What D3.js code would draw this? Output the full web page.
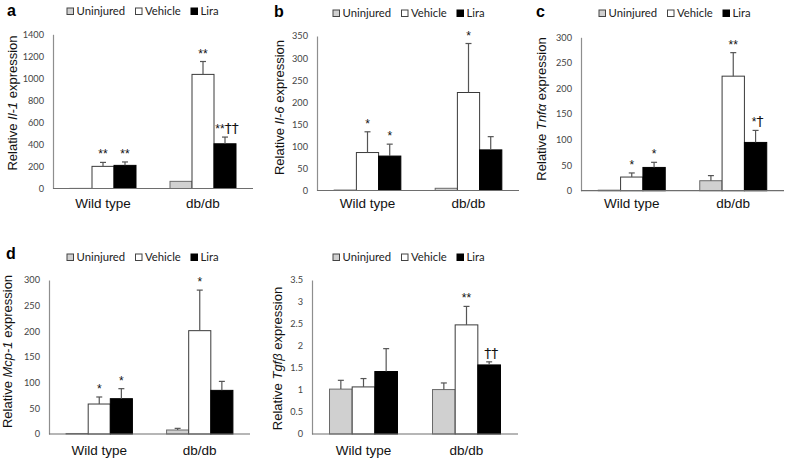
<!DOCTYPE html>
<html>
<head>
<meta charset="utf-8">
<script src="https://cdn.jsdelivr.net/npm/d3@7"></script>
<style>
  html, body { margin: 0; padding: 0; background: #fff; }
  svg { display: block; }
</style>
</head>
<body>
<svg id="chart" width="785" height="460"></svg>
<script>
// ---------------- DATA ----------------
const groups = ["Wild type", "db/db"];
const series = ["Uninjured", "Vehicle", "Lira"];

// Panel a: Il-1
const il1Uninjured = [1, 65];
const il1Vehicle   = [201, 1036];
const il1Lira      = [210, 406];
const il1UninjuredErr = [0, 0];
const il1VehicleErr   = [36, 117];
const il1LiraErr      = [31, 61];
// significance marks, order: WT (Uninjured, Vehicle, Lira), db/db (Uninjured, Vehicle, Lira)
const il1Marks = ["", "**", "**", "", "**", "**††"];
const il1Ticks = [0, 200, 400, 600, 800, 1000, 1200, 1400];

// Panel b: Il-6
const il6Uninjured = [1, 5];
const il6Vehicle   = [86, 222];
const il6Lira      = [78, 92];
const il6UninjuredErr = [0, 0];
const il6VehicleErr   = [47, 111];
const il6LiraErr      = [27, 30];
const il6Marks = ["", "*", "*", "", "*", ""];
const il6Ticks = [0, 50, 100, 150, 200, 250, 300, 350];

// Panel c: Tnfα
const tnfUninjured = [1, 19.5];
const tnfVehicle   = [26.7, 224];
const tnfLira      = [45.5, 94.4];
const tnfUninjuredErr = [0, 10];
const tnfVehicleErr   = [8, 46];
const tnfLiraErr      = [10, 23.5];
const tnfMarks = ["", "*", "*", "", "**", "*†"];
const tnfTicks = [0, 50, 100, 150, 200, 250, 300];

// Panel d: Mcp-1
const mcpUninjured = [1, 7.8];
const mcpVehicle   = [58.4, 201.3];
const mcpLira      = [68.8, 85];
const mcpUninjuredErr = [0, 3.2];
const mcpVehicleErr   = [13.7, 79];
const mcpLiraErr      = [19.5, 17.5];
const mcpMarks = ["", "*", "*", "", "*", ""];
const mcpTicks = [0, 50, 100, 150, 200, 250, 300];

// Panel e: Tgfβ
const tgfUninjured = [1.02, 1.01];
const tgfVehicle   = [1.07, 2.48];
const tgfLira      = [1.42, 1.57];
const tgfUninjuredErr = [0.2, 0.15];
const tgfVehicleErr   = [0.19, 0.42];
const tgfLiraErr      = [0.52, 0.07];
const tgfMarks = ["", "", "", "", "**", "††"];
const tgfTicks = [0, 0.5, 1, 1.5, 2, 2.5, 3, 3.5];

// ---------------- LAYOUT ----------------
const panels = [
  { letter: "a", gene: "Il-1", vals: [il1Uninjured, il1Vehicle, il1Lira], errs: [il1UninjuredErr, il1VehicleErr, il1LiraErr],
    marks: il1Marks, ticks: il1Ticks,
    x0: 53, x1: 253, yTop: 34.3, yBase: 188.5, letterXY: [7, 16], legX: 67, legY: 15, titleX: 17, titleY: 103, xlabY: 208 },
  { letter: "b", gene: "Il-6", vals: [il6Uninjured, il6Vehicle, il6Lira], errs: [il6UninjuredErr, il6VehicleErr, il6LiraErr],
    marks: il6Marks, ticks: il6Ticks,
    x0: 317, x1: 519, yTop: 36, yBase: 190.5, letterXY: [274, 17], legX: 333, legY: 17, titleX: 284, titleY: 107.5, xlabY: 208 },
  { letter: "c", gene: "Tnfα", vals: [tnfUninjured, tnfVehicle, tnfLira], errs: [tnfUninjuredErr, tnfVehicleErr, tnfLiraErr],
    marks: tnfMarks, ticks: tnfTicks,
    x0: 581, x1: 784, yTop: 37.3, yBase: 190.7, letterXY: [536, 17], legX: 599, legY: 17, titleX: 546, titleY: 109, xlabY: 208 },
  { letter: "d", gene: "Mcp-1", vals: [mcpUninjured, mcpVehicle, mcpLira], errs: [mcpUninjuredErr, mcpVehicleErr, mcpLiraErr],
    marks: mcpMarks, ticks: mcpTicks,
    x0: 49, x1: 250, yTop: 280, yBase: 434, letterXY: [6, 259], legX: 67, legY: 261, titleX: 12, titleY: 351.5, xlabY: 455 },
  { letter: "", gene: "Tgfβ", vals: [tgfUninjured, tgfVehicle, tgfLira], errs: [tgfUninjuredErr, tgfVehicleErr, tgfLiraErr],
    marks: tgfMarks, ticks: tgfTicks,
    x0: 312, x1: 518, yTop: 280, yBase: 434, letterXY: [0, 0], legX: 333, legY: 261, titleX: 282, titleY: 358.5, xlabY: 455 }
];

const fills   = ["#d0d0d0", "#ffffff", "#000000"];
const strokes = ["#6a6a6a", "#3a3a3a", "#000000"];
const sansA = "'Liberation Sans', Arial, sans-serif";
const sansB = "Lato, 'Open Sans', sans-serif";

const svg = d3.select("#chart");

panels.forEach(p => {
  const g = svg.append("g");
  const maxTick = p.ticks[p.ticks.length - 1];
  const y = d3.scaleLinear().domain([0, maxTick]).range([p.yBase, p.yTop]);
  const x = d3.scaleBand().domain(groups).range([p.x0, p.x1]).padding(0);
  const bw = x.bandwidth();
  const xs = d3.scaleBand().domain(series).range([bw * 0.17, bw * 0.83]).padding(0);

  // y axis (no tick marks, Excel style)
  const yAxis = d3.axisLeft(y).tickValues(p.ticks).tickSize(0).tickPadding(9)
    .tickFormat(d => d3.format("~g")(d));
  const ag = g.append("g").attr("transform", `translate(${p.x0},0)`).call(yAxis);
  ag.select(".domain").attr("stroke", "#8e8e8e").attr("stroke-width", 1.2);
  ag.selectAll("text").attr("font-family", sansB).attr("font-size", 9.2).attr("fill", "#444");

  // bars
  series.forEach((s, si) => {
    groups.forEach((grp, gi) => {
      const v = p.vals[si][gi];
      const e = p.errs[si][gi];
      const bx = x(grp) + xs(s);
      const w = xs.bandwidth();
      g.append("rect")
        .attr("x", bx).attr("y", y(v))
        .attr("width", w).attr("height", y(0) - y(v))
        .attr("fill", fills[si]).attr("stroke", strokes[si]).attr("stroke-width", 1);
      const cx = bx + w / 2;
      if (e > 0) {
        g.append("line").attr("x1", cx).attr("x2", cx).attr("y1", y(v)).attr("y2", y(v + e))
          .attr("stroke", "#555").attr("stroke-width", 1.2);
        g.append("line").attr("x1", cx - 3).attr("x2", cx + 3).attr("y1", y(v + e)).attr("y2", y(v + e))
          .attr("stroke", "#555").attr("stroke-width", 1.2);
      }
      const m = p.marks[gi * 3 + si];
      if (m) {
        const t = g.append("text")
          .attr("x", cx + (m.includes("†") ? 2 : 0)).attr("y", y(v + e) - 4)
          .attr("text-anchor", "middle").attr("fill", "#111");
        m.split("").forEach(ch => {
          if (ch === "†") {
            t.append("tspan").text(ch).attr("font-size", 14).attr("font-family", "'DejaVu Sans', sans-serif");
          } else {
            t.append("tspan").text(ch).attr("font-size", 12).attr("font-family", sansA);
          }
        });
      }
    });
  });

  // baseline
  g.append("line").attr("x1", p.x0).attr("x2", p.x1).attr("y1", y(0)).attr("y2", y(0))
    .attr("stroke", "#6e6e6e").attr("stroke-width", 1.2);

  // x labels
  groups.forEach(grp => {
    g.append("text").attr("x", x(grp) + bw / 2).attr("y", p.xlabY)
      .attr("text-anchor", "middle").attr("font-family", sansA).attr("font-size", 13.5)
      .attr("fill", "#111").text(grp);
  });

  // y title
  const tt = g.append("text")
    .attr("transform", `translate(${p.titleX},${p.titleY}) rotate(-90)`)
    .attr("text-anchor", "middle").attr("font-family", sansA).attr("font-size", 13).attr("fill", "#111");
  tt.append("tspan").text("Relative ");
  tt.append("tspan").attr("font-style", "italic").text(p.gene);
  tt.append("tspan").text(" expression");

  // panel letter
  if (p.letter) {
    g.append("text").attr("x", p.letterXY[0]).attr("y", p.letterXY[1])
      .attr("font-family", sansA).attr("font-weight", "bold").attr("font-size", 16)
      .attr("fill", "#000").text(p.letter);
  }

  // legend
  const legOffsets = [0, 68.5, 124];
  series.forEach((s, si) => {
    const lx = p.legX + legOffsets[si];
    g.append("rect").attr("x", lx).attr("y", p.legY - 7).attr("width", 6.5).attr("height", 6.5)
      .attr("fill", fills[si]).attr("stroke", si === 2 ? "#000" : "#444").attr("stroke-width", 1);
    g.append("text").attr("x", lx + 9.5).attr("y", p.legY)
      .attr("font-family", sansB).attr("font-size", 11.3).attr("fill", "#222").text(s);
  });
});
</script>
</body>
</html>
